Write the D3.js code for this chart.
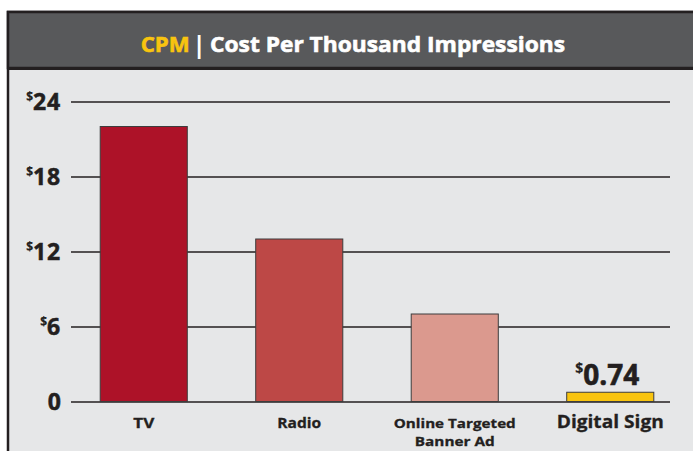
<!DOCTYPE html>
<html><head><meta charset="utf-8">
<script src="https://cdn.jsdelivr.net/npm/d3@7"></script>
<style>
body{margin:0;background:#fff;}
svg{display:block;}
text{font-family:"Open Sans",sans-serif;font-weight:700;}
</style>
</head><body>
<svg id="c" width="693" height="451"></svg>
<script>
// ---- data ----
const categories = ["TV", "Radio", "Online Targeted\nBanner Ad", "Digital Sign"];
const values = [22, 13, 7, 0.74];
const valueLabels = [null, null, null, "$0.74"];
const yTicks = [0, 6, 12, 18, 24];
const yTickLabels = ["0", "$6", "$12", "$18", "$24"];
const titleParts = ["CPM", "|", "Cost Per Thousand Impressions"];

// ---- styles ----
const barColors = ["#ad1228", "#bd4846", "#db998e", "#f8c40f"];
const labelLineWidths = [[21], [44], [122, 80], [107]];
const labelFontSizes = [15, 15, 13, 18];

const svg = d3.select("#c");

// frame
svg.append("rect").attr("x", 8).attr("y", 12).attr("width", 700).attr("height", 460)
  .attr("fill", "#e6e7e8").attr("stroke", "#231f20").attr("stroke-width", 2.5);
svg.append("rect").attr("x", 8).attr("y", 12).attr("width", 700).attr("height", 56)
  .attr("fill", "#58595b").attr("stroke", "#231f20").attr("stroke-width", 2.5);
svg.append("line").attr("x1", 8).attr("x2", 700).attr("y1", 68.5).attr("y2", 68.5)
  .attr("stroke", "#231f20").attr("stroke-width", 3);

// title
const tg = svg.append("g");
tg.append("text").attr("x", 140.7).attr("y", 51.7).attr("font-size", 22)
  .attr("fill", "#f8c40f").attr("stroke", "#f8c40f").attr("stroke-width", 0.6)
  .attr("textLength", 49).attr("lengthAdjust", "spacingAndGlyphs")
  .text(titleParts[0]);
tg.append("text").attr("x", 199).attr("y", 53).attr("font-size", 24).attr("font-weight", 400)
  .attr("text-anchor", "middle").attr("fill", "#fff").text(titleParts[1]);
tg.append("text").attr("x", 210).attr("y", 51.7).attr("font-size", 22)
  .attr("fill", "#fff").attr("stroke", "#fff").attr("stroke-width", 0.6)
  .attr("textLength", 355).attr("lengthAdjust", "spacingAndGlyphs")
  .text(titleParts[2]);

// scales
const x = d3.scaleBand().domain(categories).range([66, 688]).paddingInner(0.44).paddingOuter(0.22);
const y = d3.scaleLinear().domain([0, 24]).range([401.5, 101.5]);

// y axis + gridlines
const yAxis = svg.append("g").attr("transform", "translate(71,0)")
  .call(d3.axisLeft(y).tickValues(yTicks).tickSize(-599).tickPadding(10));
yAxis.select(".domain").remove();
yAxis.selectAll(".tick line").attr("stroke", "#231f20").attr("stroke-width", 1.6);
yAxis.selectAll(".tick text").each(function(d) {
  const t = d3.select(this);
  const lab = yTickLabels[yTicks.indexOf(d)];
  t.text(null).attr("dy", null).attr("y", 8).attr("fill", "#231f20")
    .attr("stroke", "#231f20").attr("stroke-width", 0.5)
    .attr("font-family", '"Open Sans",sans-serif').attr("font-weight", 700).attr("font-size", 23);
  if (lab.startsWith("$")) {
    t.append("tspan").attr("font-size", 12).attr("stroke-width", 0.2).attr("dy", -9).text("$");
    t.append("tspan").attr("font-size", 23).attr("dy", 9).attr("letter-spacing", 0.8).text(lab.slice(1));
  } else {
    t.append("tspan").text(lab);
  }
});

// bars
svg.append("g").selectAll("rect").data(values).join("rect")
  .attr("x", (d, i) => x(categories[i]))
  .attr("width", x.bandwidth())
  .attr("y", d => y(d))
  .attr("height", d => y(0) - y(d))
  .attr("fill", (d, i) => barColors[i])
  .attr("stroke", "#3d3d3d").attr("stroke-width", 1);

// value labels
valueLabels.forEach((lab, i) => {
  if (!lab) return;
  const cx = x(categories[i]) + x.bandwidth() / 2;
  const t = svg.append("text").attr("x", cx - 3).attr("y", y(values[i]) - 7)
    .attr("text-anchor", "middle").attr("fill", "#231f20")
    .attr("stroke", "#231f20").attr("stroke-width", 0.6);
  t.append("tspan").attr("font-size", 14).attr("stroke-width", 0.2).attr("dy", -12).text(lab[0]);
  t.append("tspan").attr("font-size", 28).attr("dy", 12).text(lab.slice(1));
});

// category labels (one text element per category, one tspan per line)
categories.forEach((c, i) => {
  const cx = x(c) + x.bandwidth() / 2;
  const t = svg.append("text").attr("x", cx).attr("y", 428)
    .attr("text-anchor", "middle").attr("fill", "#231f20")
    .attr("stroke", "#231f20").attr("stroke-width", 0.3)
    .attr("font-size", labelFontSizes[i]);
  c.split("\n").forEach((line, j) => {
    t.append("tspan").attr("x", cx).attr("y", 428 + j * 17.7)
      .attr("textLength", labelLineWidths[i][j]).attr("lengthAdjust", "spacingAndGlyphs")
      .text(line);
  });
});
</script>
</body></html>
